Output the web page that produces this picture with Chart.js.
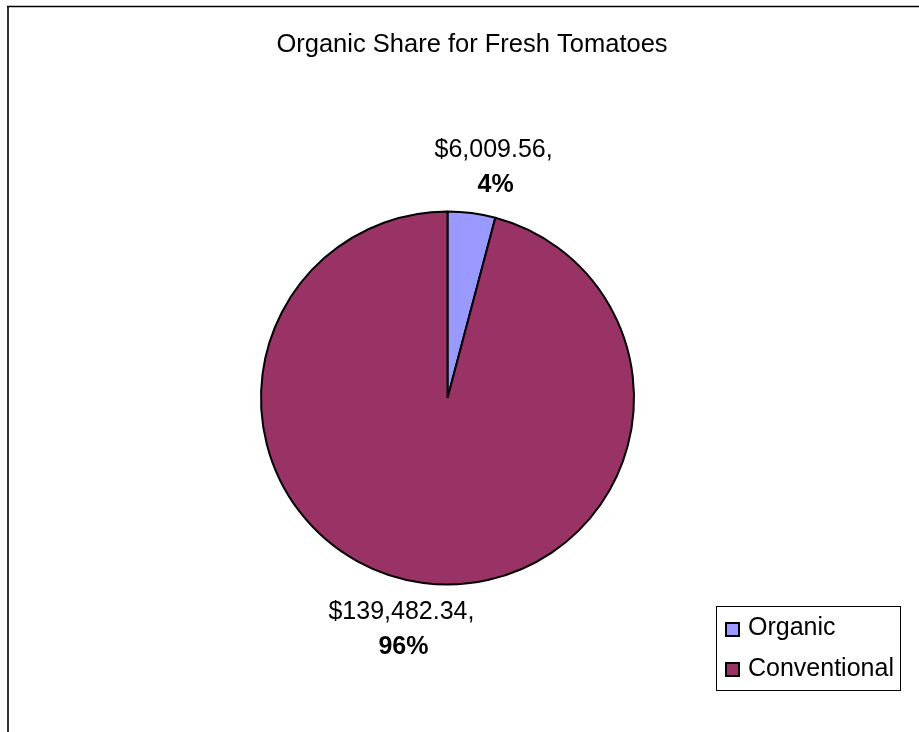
<!DOCTYPE html>
<html lang="en">
  <head>
    <meta charset="UTF-8" />
    <title>Organic Share for Fresh Tomatoes</title>
    <style>
      body {
        margin: 0;
        background-color: #ffffff;
      }
      canvas {
        display: block;
      }
    </style>
  </head>
  <body>
    <canvas id="pieChart" width="919" height="732"></canvas>
    <script src="https://cdn.jsdelivr.net/npm/chart.js"></script>
    <script>
      const categories = ["Organic", "Conventional"];
      const sales = [6009.56, 139482.34];
      const sliceColors = ["#9999FF", "#993366"];
      const chartTitle = "Organic Share for Fresh Tomatoes";

      const FONT = '"Liberation Sans", Arial, sans-serif';

      function money(v) {
        return (
          "$" +
          v.toLocaleString("en-US", {
            minimumFractionDigits: 2,
            maximumFractionDigits: 2,
          }) +
          ","
        );
      }

      // frame, title, slice labels and legend box
      const decorations = {
        id: "decorations",
        beforeDraw(chart) {
          const ctx = chart.ctx;
          ctx.save();
          ctx.strokeStyle = "#333333";
          ctx.lineWidth = 2;
          ctx.beginPath();
          ctx.moveTo(8, 6);
          ctx.lineTo(8, 732);
          ctx.stroke();
          ctx.strokeStyle = "#000000";
          ctx.lineWidth = 1.5;
          ctx.beginPath();
          ctx.moveTo(7, 6.5);
          ctx.lineTo(919, 6.5);
          ctx.stroke();
          ctx.restore();
        },
        afterDraw(chart) {
          const ctx = chart.ctx;
          ctx.save();
          ctx.fillStyle = "#000000";
          ctx.textAlign = "center";
          ctx.textBaseline = "alphabetic";
          ctx.font = "25.5px " + FONT;
          ctx.fillText(chartTitle, 472, 52);

          const ds = chart.data.datasets[0];
          const total = ds.data.reduce((a, b) => a + b, 0);
          chart.getDatasetMeta(0).data.forEach((arc, i) => {
            const p = arc.getProps(
              ["x", "y", "startAngle", "endAngle", "outerRadius"],
              true
            );
            const mid = (p.startAngle + p.endAngle) / 2;
            const dist = p.outerRadius + 46;
            const cosA = Math.cos(mid);
            const sinA = Math.sin(mid);
            const cx = p.x + dist * cosA + 16 * Math.sign(cosA);
            const cy = p.y + dist * sinA;
            ctx.font = "25px " + FONT;
            ctx.fillText(money(ds.data[i]), cx, cy - 10);
            ctx.font = "bold 25px " + FONT;
            ctx.fillText(
              Math.round((ds.data[i] / total) * 100) + "%",
              cx + 2,
              cy + 25
            );
          });

          // legend
          ctx.strokeStyle = "#000000";
          ctx.lineWidth = 1;
          ctx.strokeRect(716.5, 606.5, 184, 84);
          ctx.textAlign = "left";
          ctx.font = "25px " + FONT;
          chart.data.labels.forEach((label, i) => {
            const top = 623 + i * 40;
            ctx.fillStyle = ds.backgroundColor[i];
            ctx.fillRect(726, top, 13, 13);
            ctx.lineWidth = 2;
            ctx.strokeRect(726, top, 13, 13);
            ctx.fillStyle = "#000000";
            ctx.fillText(label, 748, 635 + i * 41);
          });
          ctx.restore();
        },
      };

      new Chart(document.getElementById("pieChart"), {
        type: "pie",
        data: {
          labels: categories,
          datasets: [
            {
              data: sales,
              backgroundColor: sliceColors,
              borderColor: "#000000",
              borderWidth: 2,
            },
          ],
        },
        options: {
          responsive: false,
          animation: false,
          events: [],
          devicePixelRatio: 1,
          layout: {
            padding: { left: 260, right: 284, top: 210, bottom: 146 },
          },
          plugins: {
            legend: { display: false },
            title: { display: false },
            tooltip: { enabled: false },
          },
        },
        plugins: [decorations],
      });
    </script>
  </body>
</html>
